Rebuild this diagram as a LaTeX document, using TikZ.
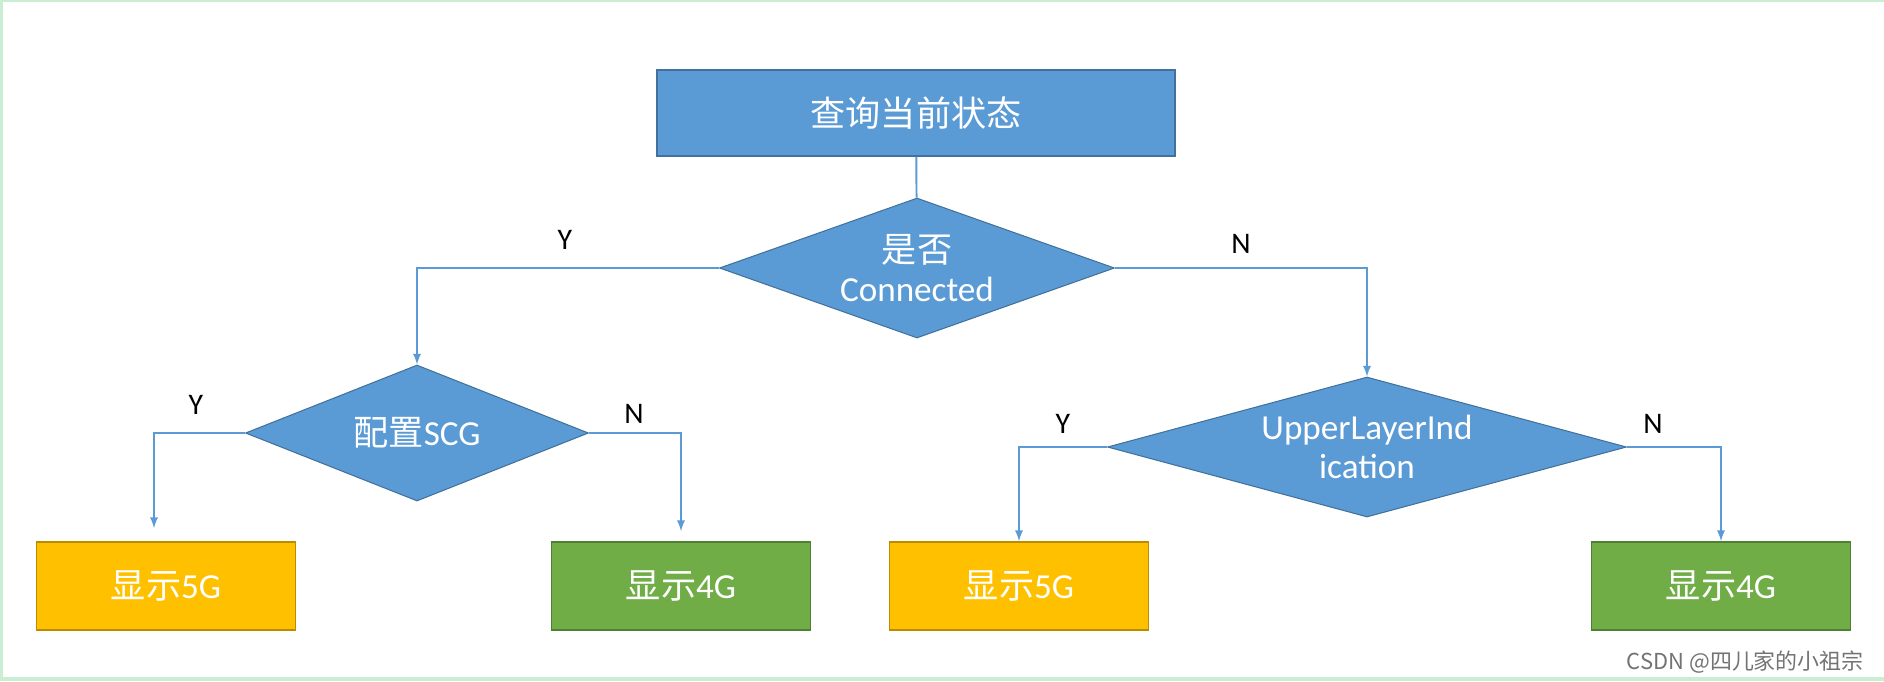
\documentclass[tikz,border=0pt]{standalone}
\usepackage{fontspec}
\setmainfont{Carlito}
\newfontfamily\cjkfont{Noto Sans CJK SC}
\newcommand{\zh}[1]{{\cjkfont #1}}
\usetikzlibrary{arrows,shapes.geometric}
\definecolor{flowblue}{HTML}{5B9BD5}
\definecolor{flowblueline}{HTML}{41719C}
\definecolor{flowyellow}{HTML}{FFC000}
\definecolor{flowyellowline}{HTML}{BC8C00}
\definecolor{flowgreen}{HTML}{70AD47}
\definecolor{flowgreenline}{HTML}{507E32}
\definecolor{edgegreen}{HTML}{C9EED2}

\begin{document}
\begin{tikzpicture}[x=0.02cm,y=-0.02cm,>=latex,
  bigfont/.style={font=\fontsize{20pt}{22pt}\selectfont},
  querybox/.style={bigfont,rectangle,draw=flowblueline,fill=flowblue,text=white,
    line width=1pt,minimum width=518*0.02cm,minimum height=86*0.02cm},
  askbox/.style={bigfont,diamond,draw=flowblueline,fill=flowblue,text=white,
    line width=0.6pt,inner sep=0pt,align=center},
  showbox/.style={bigfont,rectangle,text=white,line width=1pt,
    minimum width=259*0.02cm,minimum height=88*0.02cm},
  fiveg/.style={showbox,draw=flowyellowline,fill=flowyellow},
  fourg/.style={showbox,draw=flowgreenline,fill=flowgreen},
  flow/.style={draw=flowblue,line width=1.1pt},
  yn/.style={font=\fontsize{17pt}{19pt}\selectfont,text=black}]
  % The frame
  \useasboundingbox (0,0) rectangle (1884,681);
  \fill[edgegreen] (0,0) rectangle (1884,2);
  \fill[edgegreen] (0,0) rectangle (3,681);
  \fill[edgegreen] (0,677) rectangle (1884,681);
  % The boxes
  \node[querybox] (query) at (916,113) {\zh{查询当前状态}};
  \node[askbox,aspect=2.82,minimum width=395*0.02cm,minimum height=140*0.02cm] (conn) at (917,268)
    {\zh{是否}\\Connected};
  \node[askbox,aspect=2.52,minimum width=343*0.02cm,minimum height=136*0.02cm] (scg) at (417,433)
    {\zh{配置}SCG};
  \node[askbox,aspect=3.7,minimum width=519*0.02cm,minimum height=140*0.02cm] (upper) at (1367,447)
    {UpperLayerInd\\ication};
  \node[fiveg] (leftfive) at (166,586) {\zh{显示}5G};
  \node[fourg] (leftfour) at (681,586) {\zh{显示}4G};
  \node[fiveg] (rightfive) at (1019,586) {\zh{显示}5G};
  \node[fourg] (rightfour) at (1721,586) {\zh{显示}4G};
  % The connectors
  \draw[flow] (query) -- (conn);
  \draw[flow,->] (conn.west) -| (scg.north);
  \draw[flow,->] (conn.east) -| (upper.north);
  \draw[flow,->,shorten >=13*0.02cm] (scg.west) -| ([xshift=-12*0.02cm]leftfive.north);
  \draw[flow,->,shorten >=10*0.02cm] (scg.east) -| (leftfour.north);
  \draw[flow,->] (upper.west) -| (rightfive.north);
  \draw[flow,->] (upper.east) -| (rightfour.north);
  % The labels
  \node[yn] (ya) at (565,240) {Y};
  \node[yn] (na) at (1241,244) {N};
  \node[yn] (yb) at (196,405) {Y};
  \node[yn] (nb) at (634,414) {N};
  \node[yn] (yc) at (1063,424) {Y};
  \node[yn] (nc) at (1653,424) {N};
  \node[font=\cjkfont\fontsize{12.5pt}{14pt}\selectfont,text=black!55,anchor=east]
    (mark) at (1870,662) {CSDN @四儿家的小祖宗};
\end{tikzpicture}
\end{document}
